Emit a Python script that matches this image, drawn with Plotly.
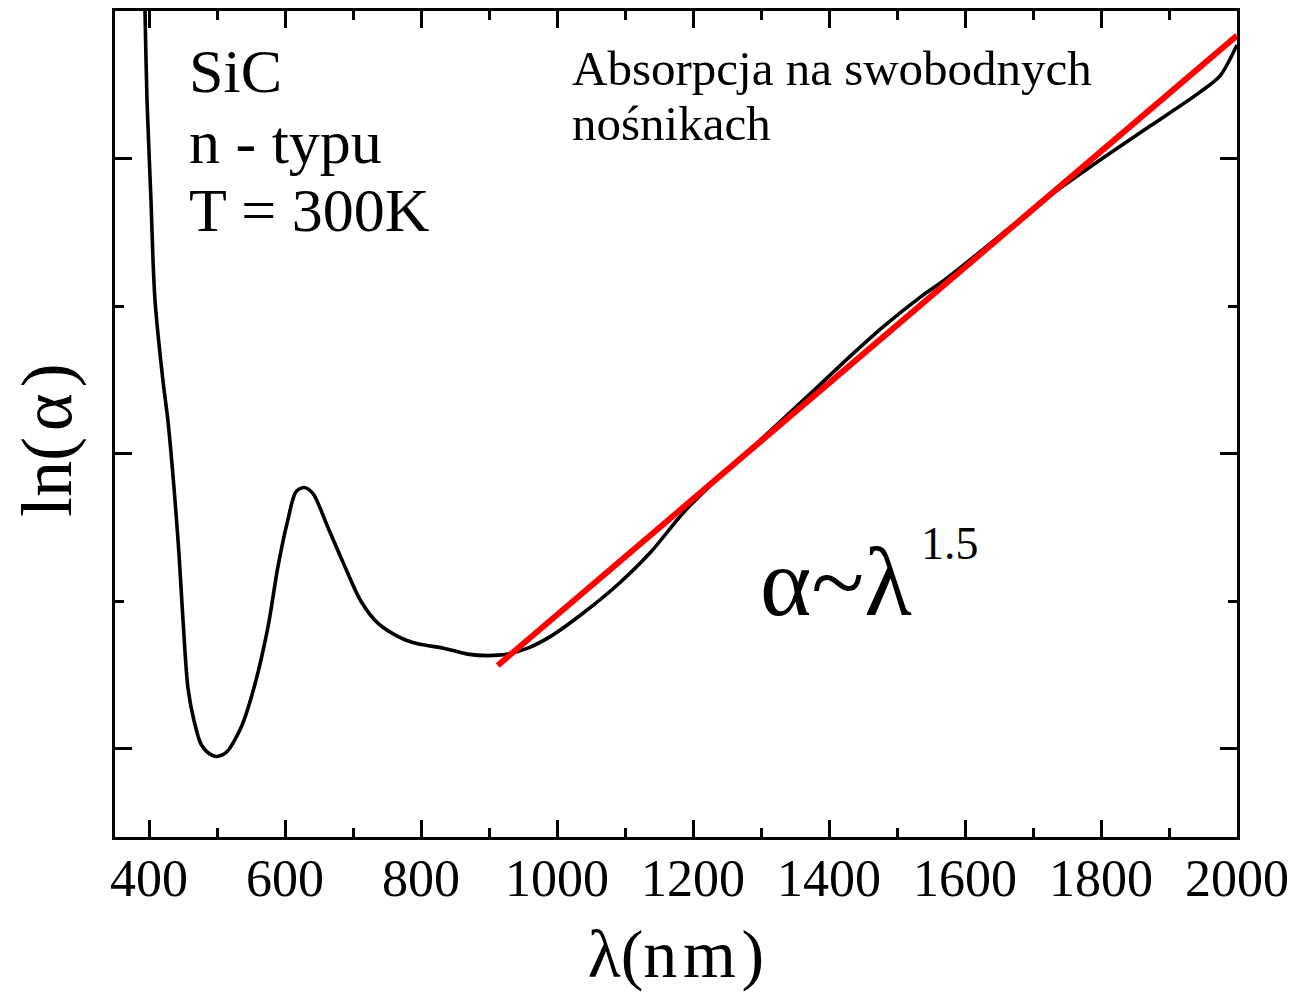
import plotly.graph_objects as go

# wavelength (nm) and ln(alpha) (arbitrary units) of the measured spectrum
wavelength = [393, 394.1, 397.1, 402.9, 405.9, 408.8, 413.2, 420.6, 427.9, 436.7,
              444.1, 450.0, 457.3, 466.1, 476.4, 488.2, 498.4, 508.7, 516.1, 535.2,
              554.3, 574.8, 589.5, 604.2, 616.0, 627.7, 641.0, 663.0, 686.5, 711.5,
              736.5, 770.3, 795.2, 833.4, 868.7, 898.1, 927.5, 956.8, 990.6, 1039.1,
              1089.1, 1137.6, 1186.0, 1236.0, 1284.5, 1382.9, 1431.4, 1479.9, 1534.3,
              1573.9, 1670.9, 1725.3, 1798.7, 1872.2, 1945.6, 1975.0, 2000.0]
ln_alpha = [6.2, 6.0, 5.39, 4.72, 4.31, 4.04, 3.81, 3.49, 3.22, 2.77,
            2.32, 1.87, 1.41, 1.19, 1.03, 0.966, 0.946, 0.959, 0.986, 1.14,
            1.41, 1.82, 2.23, 2.55, 2.74, 2.77, 2.73, 2.50, 2.25, 2.00,
            1.85, 1.75, 1.71, 1.68, 1.64, 1.63, 1.64, 1.68, 1.76, 1.92,
            2.11, 2.33, 2.60, 2.83, 3.03, 3.45, 3.66, 3.86, 4.06,
            4.19, 4.55, 4.75, 4.99, 5.22, 5.45, 5.56, 5.77]

# linear fit (alpha ~ lambda^1.5)
fit_wavelength = [912.8, 2000.0]
fit_ln_alpha = [1.563, 5.834]

x_ticks = [400, 600, 800, 1000, 1200, 1400, 1600, 1800, 2000]

FONT = "Liberation Serif, Times New Roman, serif"

fig = go.Figure()
fig.add_trace(go.Scatter(x=wavelength, y=ln_alpha, mode="lines",
                         line=dict(color="black", width=3.6, shape="spline", smoothing=0.8),
                         showlegend=False))
fig.add_trace(go.Scatter(x=fit_wavelength, y=fit_ln_alpha, mode="lines",
                         line=dict(color="#ff0000", width=6), showlegend=False))

axis_common = dict(showline=True, linecolor="black", linewidth=3, mirror="ticks",
                   ticks="inside", ticklen=17, tickwidth=3, tickcolor="black",
                   showgrid=False, zeroline=False, automargin=False)

fig.update_xaxes(range=[350, 2000], tickvals=x_ticks, ticktext=[str(v) for v in x_ticks],
                 tickfont=dict(family=FONT, size=52, color="black"),
                 ticklabelstandoff=-6,
                 minor=dict(dtick=100, tick0=400, ticks="inside", ticklen=9, tickwidth=3,
                            tickcolor="black", showgrid=False),
                 title=dict(text="λ(n\u200am\u200a)", font=dict(family=FONT, size=68, color="black"),
                            standoff=27),
                 **axis_common)
fig.update_yaxes(range=[0.4, 6.0], tick0=1, dtick=2, showticklabels=False,
                 minor=dict(dtick=1, tick0=1, ticks="inside", ticklen=9, tickwidth=3,
                            tickcolor="black", showgrid=False),
                 **axis_common)

def px_x(p):
    return (p - 115) / 1122

def px_y(p):
    return (837 - p) / 826

annots = [
    ("SiC", 187, 71, 62),
    ("n - typu", 187, 142, 62),
    ("T = 300K", 187, 210, 62),
    ("Absorpcja na swobodnych", 570, 69, 49),
    ("nośnikach", 570, 124, 49),
    ("α~λ", 758, 582, 98),
    ("1.5", 919, 543, 46),
]
for text, x, y, size in annots:
    fig.add_annotation(text=text, xref="paper", yref="paper", x=px_x(x), y=px_y(y),
                       xanchor="left", yanchor="middle", showarrow=False,
                       font=dict(family=FONT, size=size, color="black"))

# y-axis title
fig.add_annotation(text="ln(\u200aα\u200a)", xref="paper", yref="paper", x=px_x(47), y=px_y(440),
                   xanchor="center", yanchor="middle", textangle=-90, showarrow=False,
                   font=dict(family=FONT, size=72, color="black"))

fig.update_layout(width=1294, height=992, margin=dict(l=115, r=57, t=11, b=155),
                  paper_bgcolor="white", plot_bgcolor="white",
                  font=dict(family=FONT, color="black"))

fig.write_html("out.html")
